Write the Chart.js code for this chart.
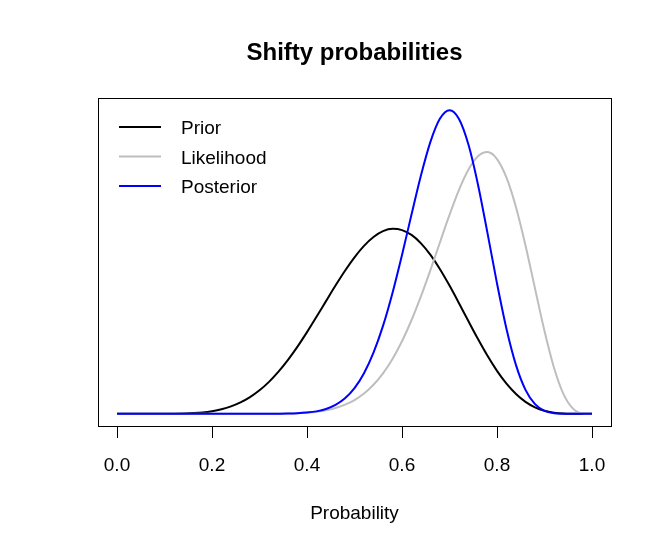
<!DOCTYPE html>
<html>
<head>
<meta charset="utf-8">
<script src="https://cdn.jsdelivr.net/npm/chart.js@4"></script>
<style>
  html, body { margin: 0; padding: 0; background: #fff; }
  canvas { display: block; }
</style>
</head>
<body>
<canvas id="c" width="662" height="550"></canvas>
<script>
const probability = [0,0.02,0.04,0.06,0.08,0.10,0.12,0.14,0.16,0.18,0.20,0.22,0.24,0.26,0.28,0.30,0.32,0.34,0.36,0.38,0.40,0.42,0.44,0.46,0.48,0.50,0.52,0.54,0.56,0.58,0.60,0.62,0.64,0.66,0.68,0.70,0.72,0.74,0.76,0.78,0.80,0.82,0.84,0.86,0.88,0.90,0.92,0.94,0.96,0.98,1.00];

const prior = [0,0,0,0,0,0.001,0.002,0.005,0.012,0.023,0.043,0.074,0.120,0.184,0.269,0.378,0.514,0.677,0.866,1.079,1.312,1.558,1.810,2.060,2.298,2.514,2.697,2.839,2.933,2.971,2.951,2.873,2.738,2.552,2.323,2.060,1.777,1.486,1.201,0.932,0.691,0.485,0.319,0.193,0.105,0.049,0.019,0.005,0.001,0,0];

const likelihood = [0,0,0,0,0,0,0,0,0,0,0,0,0,0,0,0.001,0.001,0.003,0.006,0.011,0.020,0.035,0.058,0.094,0.147,0.222,0.326,0.467,0.650,0.882,1.166,1.503,1.889,2.312,2.756,3.194,3.596,3.923,4.137,4.203,4.091,3.793,3.318,2.704,2.014,1.330,0.741,0.317,0.084,0.007,0];

const posterior = [0,0,0,0,0,0,0,0,0,0,0,0,0,0,0,0,0.001,0.002,0.004,0.009,0.020,0.040,0.078,0.143,0.249,0.413,0.652,0.982,1.412,1.942,2.551,3.200,3.832,4.372,4.742,4.877,4.736,4.321,3.680,2.902,2.095,1.363,0.783,0.386,0.156,0.049,0.010,0.001,0,0,0];

const seriesLabels = ['Prior', 'Likelihood', 'Posterior'];
const xTicks = [0, 0.2, 0.4, 0.6, 0.8, 1.0];

const FONT = '"Liberation Sans", Arial, Helvetica, sans-serif';
const colors = ['#000000', '#BEBEBE', '#0000FF'];
const seriesData = [prior, likelihood, posterior];

const toPoints = arr => arr.map((v, i) => ({ x: probability[i], y: v }));

const boxPlugin = {
  id: 'box',
  afterDraw(chart) {
    const { ctx, chartArea: a } = chart;
    ctx.save();
    ctx.strokeStyle = '#000';
    ctx.lineWidth = 1;
    const l = Math.floor(a.left) + 0.5, t = Math.floor(a.top) + 0.5;
    const r = Math.floor(a.right) + 0.5, b = Math.floor(a.bottom) + 0.5;
    ctx.strokeRect(l, t, r - l, b - t);
    ctx.restore();
  }
};

const legendPlugin = {
  id: 'rlegend',
  afterDraw(chart) {
    const { ctx } = chart;
    const rows = [127, 156.5, 186];
    ctx.save();
    ctx.font = '19px ' + FONT;
    ctx.textBaseline = 'middle';
    ctx.textAlign = 'left';
    chart.data.datasets.forEach((ds, i) => {
      const y = rows[i];
      ctx.strokeStyle = ds.borderColor;
      ctx.lineWidth = 2;
      ctx.beginPath();
      ctx.moveTo(119, y);
      ctx.lineTo(161, y);
      ctx.stroke();
      ctx.fillStyle = '#000';
      ctx.fillText(ds.label, 181, y + 2);
    });
    ctx.restore();
  }
};

new Chart(document.getElementById('c'), {
  type: 'line',
  data: {
    datasets: seriesData.map((arr, i) => ({
      label: seriesLabels[i],
      data: toPoints(arr),
      borderColor: colors[i],
      backgroundColor: colors[i],
      borderWidth: 2,
      pointRadius: 0,
      fill: false,
      cubicInterpolationMode: 'monotone',
      order: 3 - i
    }))
  },
  options: {
    responsive: false,
    animation: false,
    devicePixelRatio: 1,
    layout: { padding: { left: 98, right: 51, top: 0, bottom: 0 } },
    plugins: {
      legend: { display: false },
      tooltip: { enabled: false },
      title: {
        display: true,
        text: 'Shifty probabilities',
        color: '#000',
        font: { size: 24, weight: 'bold', family: FONT, lineHeight: 1.2 },
        padding: { top: 38.6, bottom: 30.6 }
      }
    },
    scales: {
      x: {
        type: 'linear',
        min: -0.04,
        max: 1.04,
        afterBuildTicks: s => { s.ticks = xTicks.map(v => ({ value: v })); },
        afterFit: s => { s.height = 124; },
        ticks: {
          callback: v => Number(v).toFixed(1),
          color: '#000',
          font: { size: 19, family: FONT },
          padding: 16,
          maxRotation: 0,
          autoSkip: false
        },
        grid: { display: true, drawOnChartArea: false, drawTicks: true, tickLength: 12, color: '#000', lineWidth: 1 },
        border: { display: false },
        title: {
          display: true,
          text: 'Probability',
          color: '#000',
          font: { size: 19, family: FONT },
          padding: { top: 0, bottom: 25 }
        }
      },
      y: {
        display: false,
        min: -0.19508,
        max: 5.0720
      }
    }
  },
  plugins: [boxPlugin, legendPlugin]
});
</script>
</body>
</html>
